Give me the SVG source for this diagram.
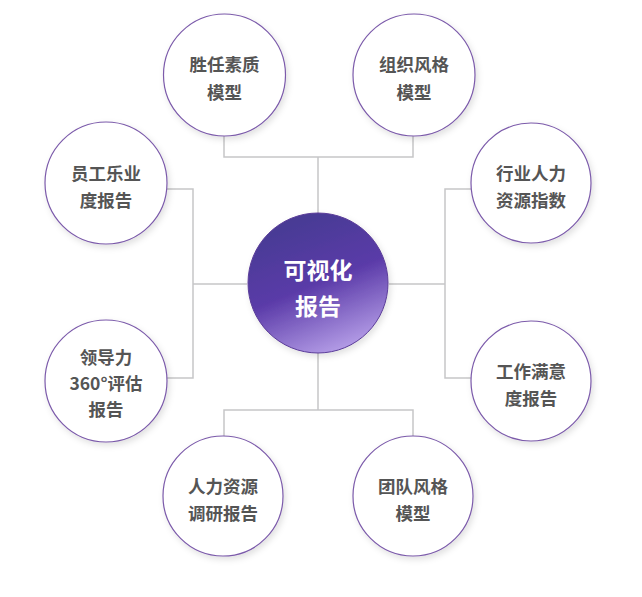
<svg xmlns="http://www.w3.org/2000/svg" width="642" height="597" viewBox="0 0 642 597">
<defs>
<linearGradient id="cg" x1="0.3" y1="0" x2="0.7" y2="1">
<stop offset="0" stop-color="#463a92"/>
<stop offset="0.5" stop-color="#5a3aa8"/>
<stop offset="1" stop-color="#b9a2ea"/>
</linearGradient>
<filter id="sh" x="-20%" y="-20%" width="140%" height="140%">
<feDropShadow dx="2" dy="3" stdDeviation="3" flood-color="#000" flood-opacity="0.12"/>
</filter>
</defs>
<style>
.n{fill:#fff;stroke:#7b5aaa;stroke-width:1.2;filter:url(#sh)}
.t{font-family:"Noto Sans CJK SC","Noto Sans",sans-serif;font-weight:bold;font-size:17.5px;fill:#555;text-anchor:middle;dominant-baseline:central}
.ct{font-family:"Noto Sans CJK SC","Noto Sans",sans-serif;font-weight:bold;font-size:23px;fill:#fff;text-anchor:middle;dominant-baseline:central}
.c{fill:none;stroke:#c6c6c8;stroke-width:1.5}
</style>
<rect width="642" height="597" fill="#fff"/>
<g id="connectors">
<path class="c" d="M224,136V157H413V136M318,157V214"/>
<path class="c" d="M167,189H193V378H167M193,284H247"/>
<path class="c" d="M471,189H445V378H471M445,284H389"/>
<path class="c" d="M318,351V410M224,436V410H413V436"/>
</g>
<g id="center">
<circle cx="318" cy="283" r="70" fill="url(#cg)" stroke="#5b3d99" stroke-width="1" filter="url(#sh)"/>
<text class="ct" x="318" y="269">可视化</text>
<text class="ct" x="318" y="305">报告</text>
</g>
<g id="n1">
<circle class="n" cx="224.5" cy="75" r="61"/>
<text class="t" x="224.5" y="63">胜任素质</text>
<text class="t" x="224.5" y="91">模型</text>
</g>
<g id="n2">
<circle class="n" cx="414" cy="75" r="61"/>
<text class="t" x="414" y="63">组织风格</text>
<text class="t" x="414" y="91">模型</text>
</g>
<g id="n3">
<circle class="n" cx="106" cy="183" r="61"/>
<text class="t" x="106" y="172">员工乐业</text>
<text class="t" x="106" y="199">度报告</text>
</g>
<g id="n4">
<circle class="n" cx="531" cy="183" r="60"/>
<text class="t" x="531" y="172">行业人力</text>
<text class="t" x="531" y="199">资源指数</text>
</g>
<g id="n5">
<circle class="n" cx="106" cy="381" r="61"/>
<text class="t" x="106" y="356">领导力</text>
<text class="t" x="106" y="382">360°评估</text>
<text class="t" x="106" y="408">报告</text>
</g>
<g id="n6">
<circle class="n" cx="531" cy="381" r="60"/>
<text class="t" x="531" y="370">工作满意</text>
<text class="t" x="531" y="397">度报告</text>
</g>
<g id="n7">
<circle class="n" cx="223" cy="496" r="60"/>
<text class="t" x="223" y="485">人力资源</text>
<text class="t" x="223" y="512">调研报告</text>
</g>
<g id="n8">
<circle class="n" cx="413" cy="496" r="60"/>
<text class="t" x="413" y="485">团队风格</text>
<text class="t" x="413" y="512">模型</text>
</g>
</svg>
